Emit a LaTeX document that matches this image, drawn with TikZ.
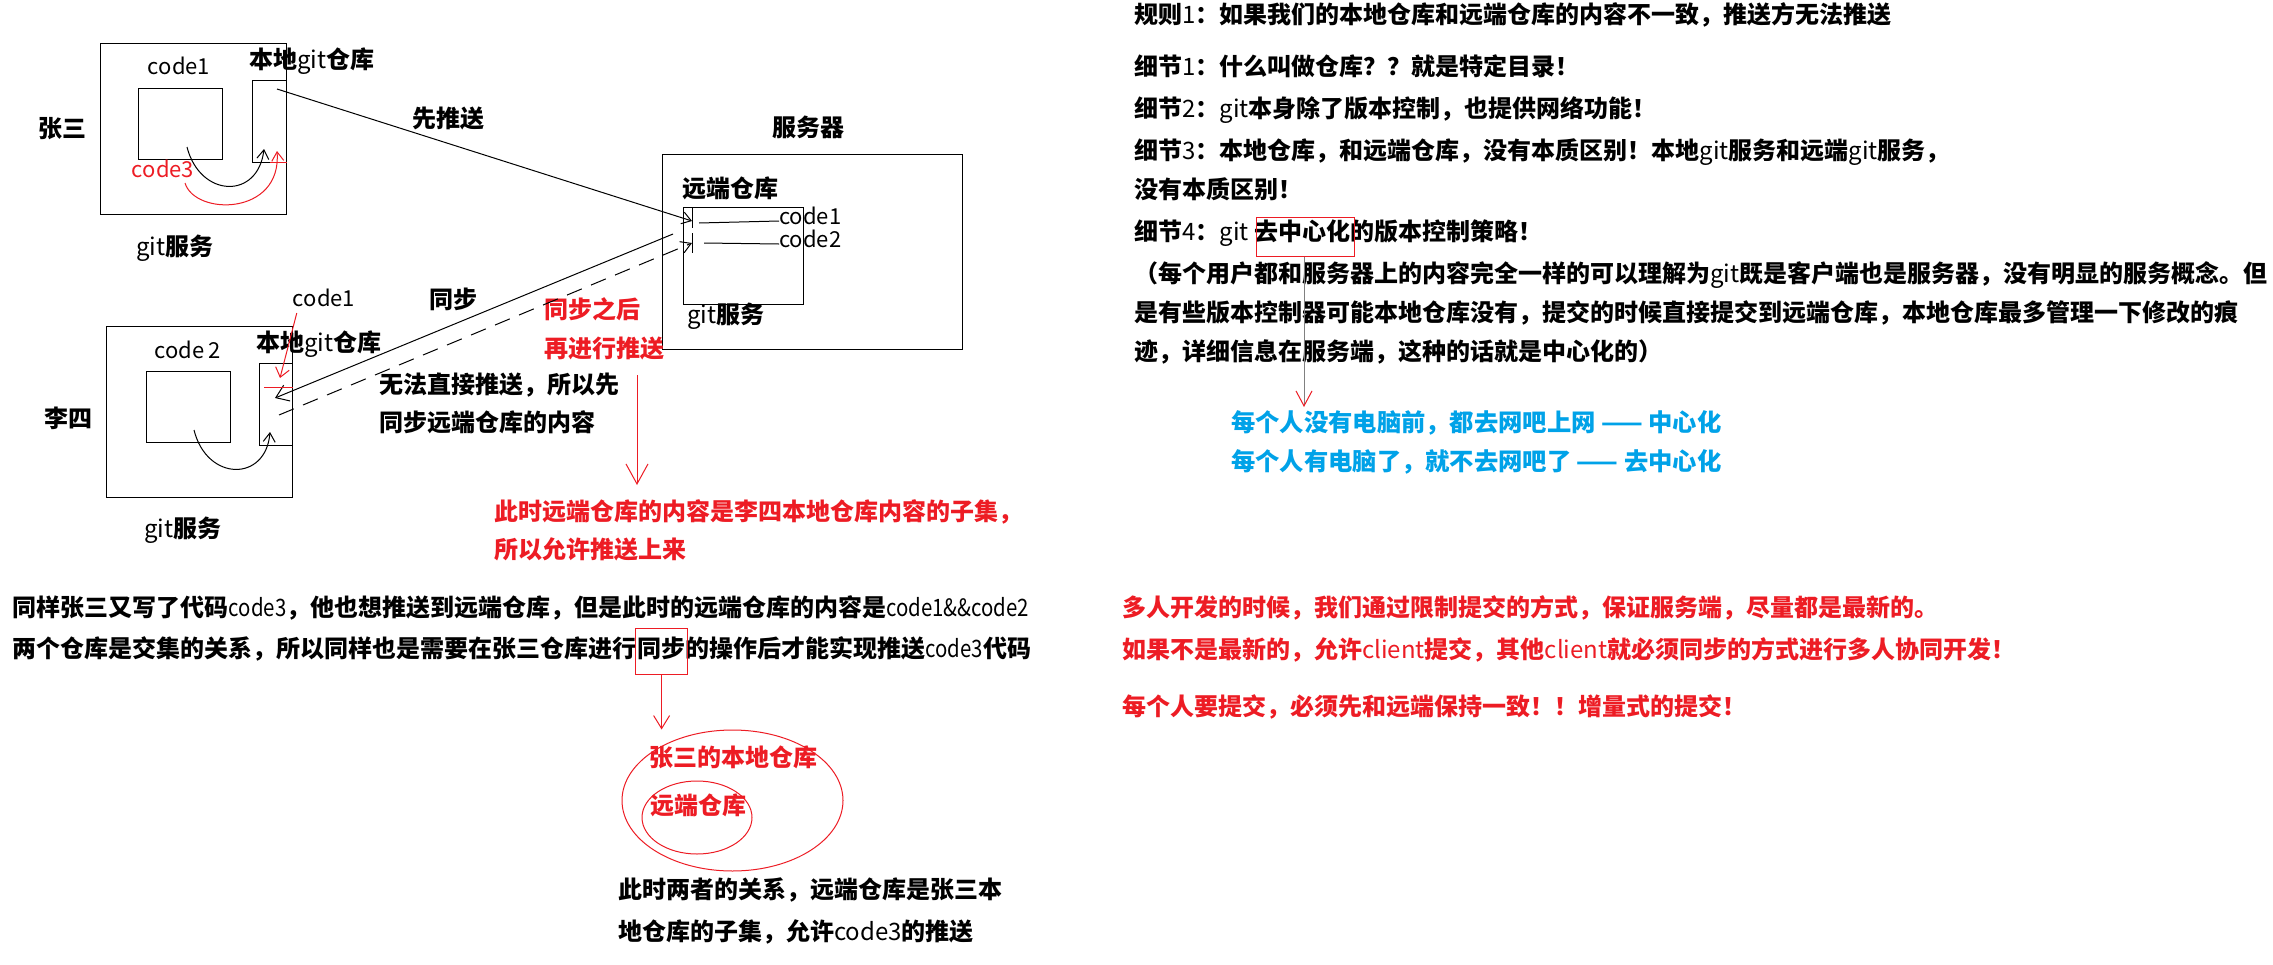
\documentclass[tikz,border=0pt]{standalone}
\usepackage{fontspec}
\setmainfont{Noto Sans CJK SC}
\newfontfamily\latn[FakeStretch=0.85]{Noto Sans CJK SC}
\usetikzlibrary{arrows.meta,shapes.geometric}
\definecolor{pred}{RGB}{237,28,36}
\definecolor{pblue}{RGB}{0,162,232}
\newcommand\rg[1]{{\mdseries #1}}
\newcommand\rgn[1]{{\latn\mdseries #1}}
\begin{document}
\begin{tikzpicture}[x=1pt,y=-1pt,
  box/.style={draw, line width=1.3pt, inner sep=0pt, anchor=north west},
  lbl/.style={inner sep=0pt, font=\fontsize{24}{28}\selectfont\bfseries, text height=0.84em, text depth=0.12em},
  lw/.style={lbl, anchor=west},
  bl/.style={lw, font=\fontsize{24}{28}\selectfont\bfseries},
  codelbl/.style={inner sep=0pt, font=\fontsize{22}{26}\selectfont, text height=0.75em, text depth=0.02em},
  ln/.style={line width=1pt},
  barb/.style={-{Straight Barb[length=9pt,width=12pt]}},
  rbox/.style={draw=pred, line width=1.2pt, inner sep=0pt, anchor=north west},
  rtxt/.style={text=pred},
  btxt/.style={text=pblue}]
\useasboundingbox (0,0) rectangle (2273,964);
\fill[white] (0,0) rectangle (2273,964);

% ---------- Zhang San ----------
\node[box, minimum width=186pt, minimum height=171pt] (zsOuter) at (100,43) {};
\node[box, minimum width=84pt, minimum height=71pt] (zsCode) at (138,88) {};
\node[box, minimum width=34pt, minimum height=82pt] (zsRepo) at (252,80) {};
\node[lbl] (zsName) at (62,134) {张三};
\node[codelbl] (zsC1) at (179,71) {code1};
\node[lbl] (zsRepoL) at (312,65) {本地\rg{git}仓库};
\node[codelbl, text=pred] (zsC3) at (163,174) {code3};
\node[lbl] (zsSvc) at (175,252) {\rg{git}服务};
\node[lbl] (pushL) at (448,124) {先推送};

% ---------- Server ----------
\node[box, minimum width=300pt, minimum height=195pt] (server) at (662,154) {};
\node[box, minimum width=120pt, minimum height=97pt] (remote) at (683,207) {};
\node[lbl] (srvL) at (808,133) {服务器};
\node[lbl] (remL) at (730,194) {远端仓库};
\node[codelbl, anchor=west] (rc1) at (779,221) {code1};
\node[codelbl, anchor=west] (rc2) at (779,244) {code2};
\node[lbl] (remSvc) at (726,320) {\rg{git}服务};
\coordinate (rIn1) at (692,221);
\coordinate (rIn2) at (692,243);
\coordinate (rOut) at (673,234);
\draw[ln] (692,208) -- (692,228);
\draw[ln] (692,233) -- (692,253);
\draw[ln] (699,223) -- (rc1.west);
\draw[ln] (704,243) -- (rc2.west);

% ---------- Li Si ----------
\node[box, minimum width=186pt, minimum height=171pt] (lsOuter) at (106,326) {};
\node[box, minimum width=84pt, minimum height=71pt] (lsCode) at (145.5,371) {};
\node[box, minimum width=33pt, minimum height=82pt] (lsRepo) at (259,363) {};
\node[lbl] (lsName) at (68,424) {李四};
\node[codelbl] (lsC2) at (187.5,355) {code\,2};
\node[lbl] (lsRepoL) at (319,348) {本地\rg{git}仓库};
\node[lbl] (lsSvc) at (183,534) {\rg{git}服务};
\node[codelbl] (lsC1) at (324,303) {code1};
\node[lbl] (syncL) at (453,305) {同步};
\node[lw] (np1) at (379,390) {无法直接推送，所以先};
\node[lw] (np2) at (379,428) {同步远端仓库的内容};
\node[lw, rtxt] (after1) at (544,315) {同步之后};
\node[lw, rtxt] (after2) at (544,354) {再进行推送};
\node[lw, rtxt] (sub1) at (494,517) {此时远端仓库的内容是李四本地仓库内容的子集，};
\node[lw, rtxt] (sub2) at (494,555) {所以允许推送上来};
\coordinate (lsIn) at (275,398);
\coordinate (lsOut) at (279,415);
\coordinate (zsOut) at (277,89);

% connectors between repos
\draw[ln, barb] (zsOut) -- (rIn1);
\draw[ln, -{Straight Barb[length=12pt,width=17pt]}] (rOut) -- (lsIn);
\draw[ln, dash pattern=on 16pt off 10pt, -{Straight Barb[length=10pt,width=12pt]}] (lsOut) -- (rIn2);

% local curves
\draw[ln, barb] (187,147) .. controls (200,198) and (258,200) .. (264,149);
\draw[ln, pred, barb] (185,183) .. controls (195,216) and (282,216) .. (277,151);
\draw[ln, pred] (270,162) -- (287,162);
\draw[ln, barb] (194,430) .. controls (207,482) and (266,482) .. (270,432);

% red marks at Li Si
\draw[ln, pred, -{Straight Barb[length=9pt,width=14pt]}] (lsC1.south west) ++(4,6) -- (280,378);
\draw[ln, pred] (264,387) -- (293,387);
\coordinate (redTop) at (637,375);
\coordinate (redBot) at (637,485);
\draw[ln, pred, -{Straight Barb[length=20pt,width=22pt]}] (redTop) -- (redBot);

% ---------- bottom left ----------
\node[bl] (bl1) at (12.6,613) {同样张三又写了代码\rgn{code3}，他也想推送到远端仓库，但是此时的远端仓库的内容是\rgn{code1\&\&code2}};
\node[bl] (bl2a) at (12.6,654) {两个仓库是交集的关系，所以同样也是需要在张三仓库进行};
\node[bl, anchor=base west] (bl2b) at (bl2a.base east) {同步};
\node[bl, anchor=base west] (bl2c) at (bl2b.base east) {的操作后才能实现推送\rgn{code3}代码};
\node[rbox, minimum width=52pt, minimum height=46pt] (syncBox) at ([xshift=-2pt,yshift=26pt]bl2b.west) {};
\node[draw=pred, line width=1pt, ellipse, minimum width=221pt, minimum height=141pt, inner sep=0pt] (ellOut) at (732.5,800.5) {};
\node[draw=pred, line width=1pt, ellipse, minimum width=110pt, minimum height=73pt, inner sep=0pt] (ellIn) at (697,817.5) {};
\draw[ln, pred, -{Straight Barb[length=13pt,width=16pt]}] (syncBox.south) -- (syncBox.south |- ellOut.north);
\node[lbl, rtxt] (ellOutL) at (733,763) {张三的本地仓库};
\node[lbl, rtxt] (ellInL) at (698,811) {远端仓库};
\node[lw] (rel1) at (618,895) {此时两者的关系，远端仓库是张三本};
\node[lw] (rel2) at (618,937) {地仓库的子集，允许\rg{code3}的推送};

% ---------- right column ----------
\node[lw] (r0) at (1134,20) {规则\rg{1}：如果我们的本地仓库和远端仓库的内容不一致，推送方无法推送};
\node[lw] (r1) at (1134,72) {细节\rg{1}：什么叫做仓库？？就是特定目录！};
\node[lw] (r2) at (1134,114) {细节\rg{2}：\rg{git}本身除了版本控制，也提供网络功能！};
\node[lw] (r3) at (1134,156) {细节\rg{3}：本地仓库，和远端仓库，没有本质区别！本地\rg{git}服务和远端\rg{git}服务，};
\node[lw] (r3b) at (1134,195) {没有本质区别！};
\node[lw] (r4) at (1134,237) {细节\rg{4}：\rg{git} 去中心化的版本控制策略！};
\node[lw] (r5) at (1134,279) {（每个用户都和服务器上的内容完全一样的可以理解为\rg{git}既是客户端也是服务器，没有明显的服务概念。但};
\node[lw] (r6) at (1134,318) {是有些版本控制器可能本地仓库没有，提交的时候直接提交到远端仓库，本地仓库最多管理一下修改的痕};
\node[lw] (r7) at (1134,357) {迹，详细信息在服务端，这种的话就是中心化的）};
\node[rbox, minimum width=98pt, minimum height=39pt] (decBox) at (1256,217) {};
\coordinate (decEnd) at (1304,407);
\draw[ln, gray, -{Straight Barb[length=15pt,width=16pt,color=pred]}] (decBox.south -| decEnd) -- (decEnd);
\node[lw, btxt, font=\fontsize{24.3}{28}\selectfont\bfseries] (b1) at (1231,428) {每个人没有电脑前，都去网吧上网 —— 中心化};
\node[lw, btxt, font=\fontsize{24.3}{28}\selectfont\bfseries] (b2) at (1231,467) {每个人有电脑了，就不去网吧了 —— 去中心化};
\node[lw, rtxt] (m1) at (1122,613) {多人开发的时候，我们通过限制提交的方式，保证服务端，尽量都是最新的。};
\node[lw, rtxt] (m2) at (1122,655) {如果不是最新的，允许\rg{client}提交，其他\rg{client}就必须同步的方式进行多人协同开发！};
\node[lw, rtxt] (m3) at (1122,712) {每个人要提交，必须先和远端保持一致！！增量式的提交！};
\end{tikzpicture}
\end{document}
